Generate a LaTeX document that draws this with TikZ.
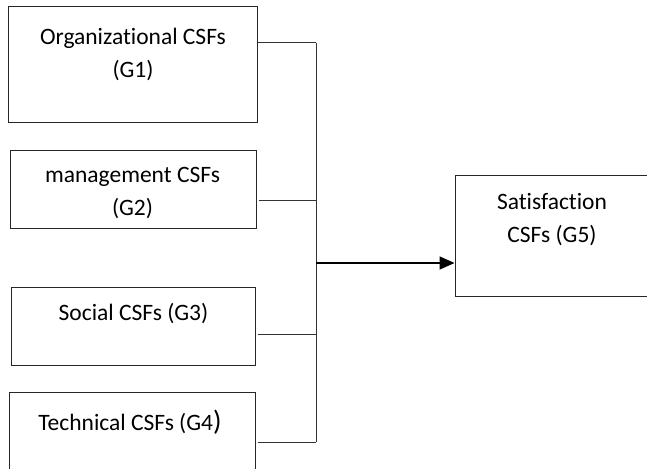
\documentclass[tikz,border=0pt]{standalone}
\usepackage{fontspec}
\setmainfont[Ligatures=NoCommon]{Carlito}
\usetikzlibrary{arrows.meta}

\begin{document}
\begin{tikzpicture}[x=1pt, y=-1pt,
        box/.style={shape=rectangle, draw=black!85, line width=1pt, inner sep=0pt},
        txt/.style={align=center, anchor=base, inner sep=0pt, font=\fontsize{23.5}{33}\selectfont},
        wire/.style={draw=black!80, line width=1pt}]
        \useasboundingbox (0, 0) rectangle (647, 468);
        \clip (0, 0) rectangle (647, 468);

        % the four groups on the left
        \node[box, minimum width=249pt, minimum height=115pt] (g1) at (132.5, 64.5) {};
        \node[box, minimum width=246pt, minimum height=78pt] (g2) at (133, 189) {};
        \node[box, minimum width=244pt, minimum height=78pt] (g3) at (133, 326) {};
        \node[box, minimum width=246pt, minimum height=88pt] (g4) at (132, 436) {};

        % the target group
        \node[box, minimum width=194pt, minimum height=121pt] (g5) at (552, 235.5) {};

        % base = last line
        \node[txt] (t1) at (133, 78) {Organizational CSFs\\(G1)};
        \node[txt] (t2) at (132.5, 215) {management CSFs\\(G2)};
        \node[txt] (t3) at (133.5, 320) {Social CSFs (G3)};
        \node[txt] (t4) at (130, 430) {Technical CSFs (G4{\fontsize{28}{33}\selectfont)}};
        \node[txt] (t5) at (552, 242) {Satisfaction\\CSFs (G5)};

        % joints on the bus
        \coordinate (j1) at (316, 43);
        \coordinate (j2) at (316, 200);
        \coordinate (j3) at (316, 334);
        \coordinate (j4) at (316, 442);
        \coordinate (jo) at (316, 263);

        \draw[wire] (j1 -| g1.east) -- (j1);
        \draw[wire] ([xshift=2pt]j2 -| g2.east) -- (j2);
        \draw[wire] ([xshift=2pt]j3 -| g3.east) -- (j3);
        \draw[wire] ([xshift=2pt]j4 -| g4.east) -- (j4);
        \draw[wire] (j1) -- (j4);

        \draw[wire, draw=black, line width=1.6pt, -{Triangle[length=15pt, width=13pt]}] (jo) -- (jo -| g5.west);
    \end{tikzpicture}
\end{document}
